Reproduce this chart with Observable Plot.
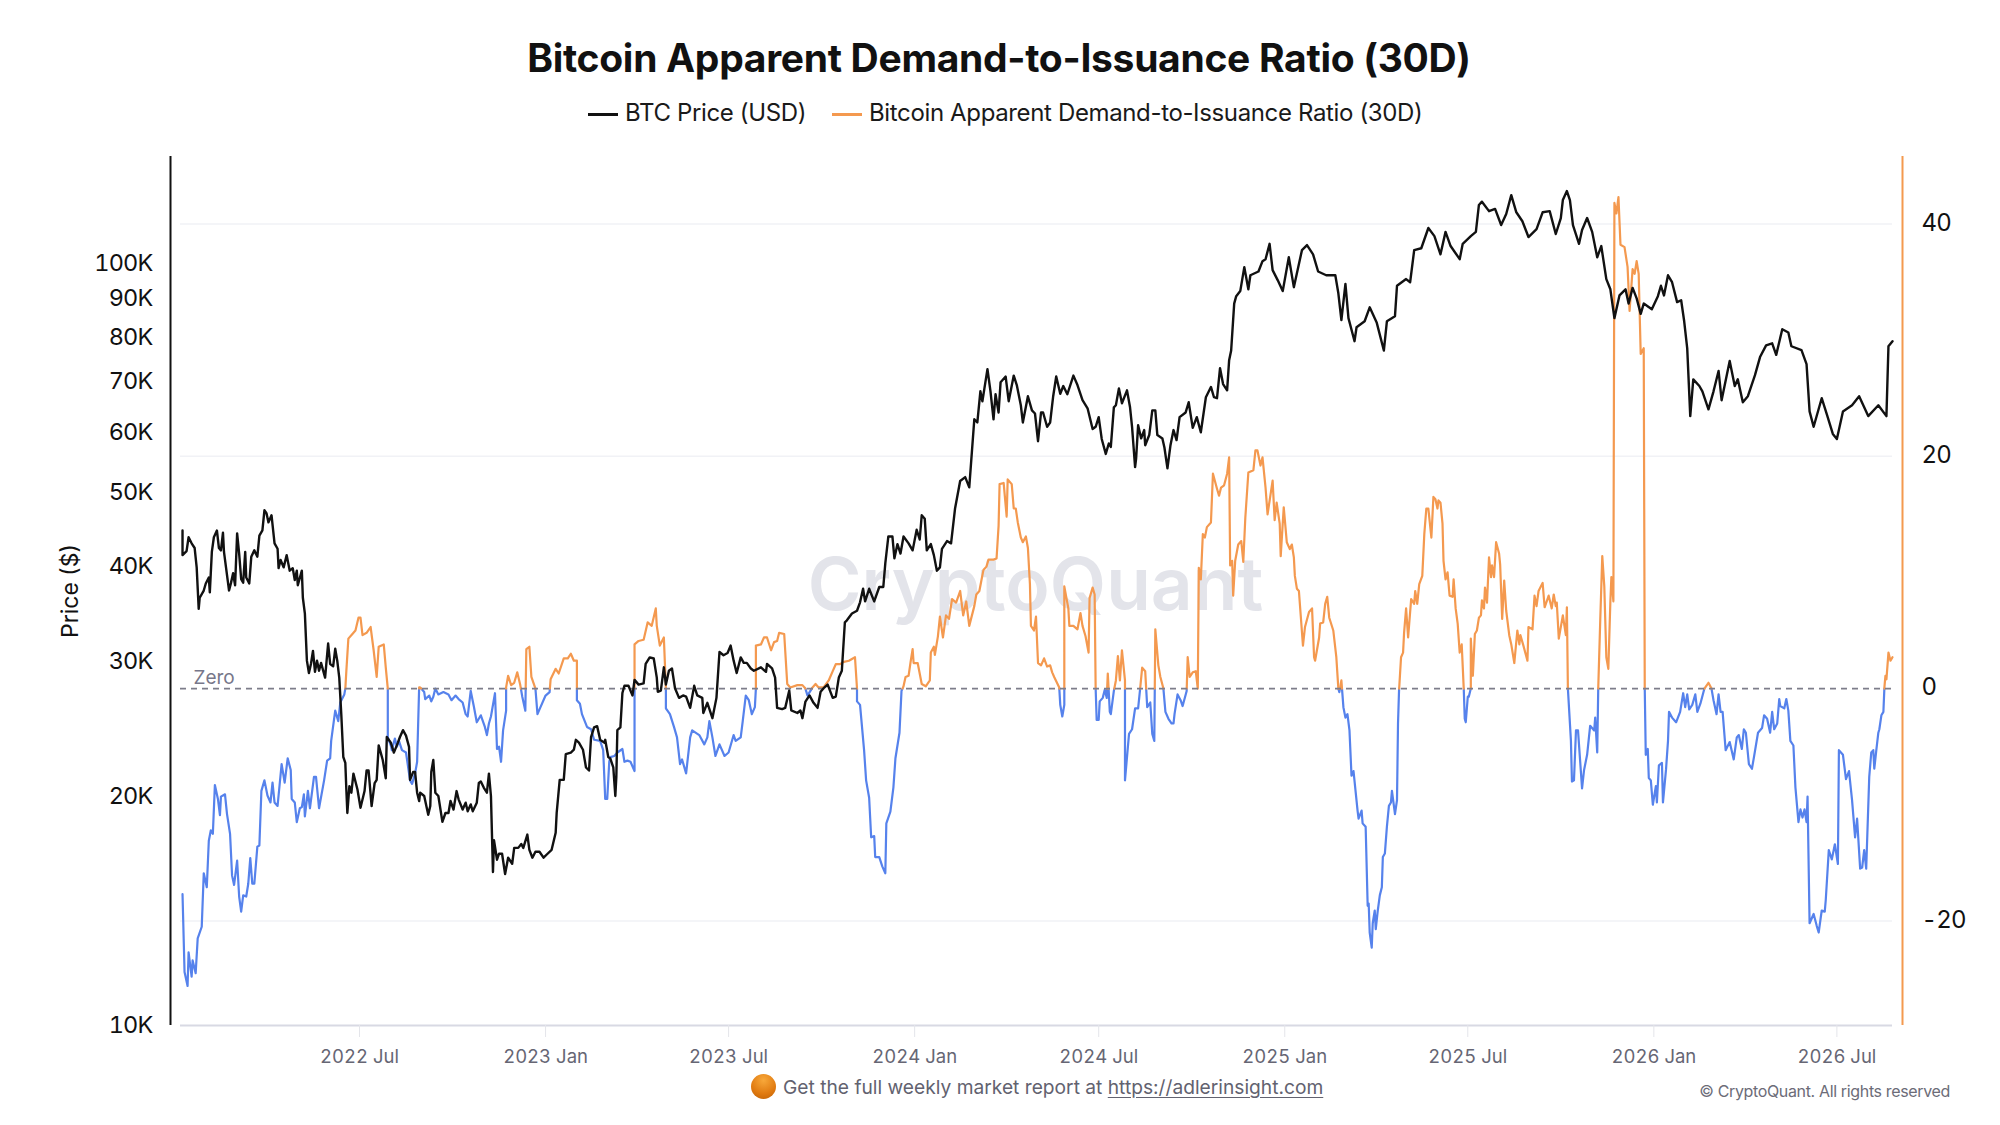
<!DOCTYPE html>
<html><head><meta charset="utf-8">
<script src="https://cdn.jsdelivr.net/npm/d3@7"></script>
<script src="https://cdn.jsdelivr.net/npm/@observablehq/plot@0.6"></script>
<style>
html,body{margin:0;padding:0;background:#fff;font-family:Inter,sans-serif;}
#page{position:relative;width:2000px;height:1125px;overflow:hidden;}
#title{position:absolute;top:32px;left:0;width:1998px;text-align:center;font-size:39px;font-weight:700;color:#111;line-height:52px;letter-spacing:-0.3px;}
.leg{position:absolute;top:98px;font-size:24px;line-height:30px;color:#1a1a1a;white-space:nowrap;letter-spacing:-0.36px;}
.swatch{position:absolute;top:113px;height:3px;width:30px;}
.layer{position:absolute;left:0;top:140px;}
#foot{position:absolute;left:783px;top:1074px;font-size:19.2px;line-height:26px;color:#62626f;white-space:nowrap;}
#foot u{text-underline-offset:3px;}
#orb{position:absolute;left:755px;top:1079px;width:25px;height:25px;border-radius:50%;background:radial-gradient(circle at 50% 25%,#f8a83a,#e07a10 60%,#bd5f05);transform:translate(-4px,-5px);}
#copy{position:absolute;right:50px;top:1080px;font-size:16px;line-height:22px;color:#6c6c78;white-space:nowrap;letter-spacing:-0.35px;}
svg g[aria-label="y-axis tick label"]{letter-spacing:-0.8px;}
</style></head><body>
<div id="page">
<div id="title">Bitcoin Apparent Demand-to-Issuance Ratio (30D)</div>
<div class="swatch" style="left:588px;background:#111"></div><div class="leg" style="left:625px">BTC Price (USD)</div>
<div class="swatch" style="left:832px;background:#f4994f"></div><div class="leg" style="left:869px">Bitcoin Apparent Demand-to-Issuance Ratio (30D)</div>
<div id="ratioLayer" class="layer"></div>
<div id="priceLayer" class="layer"></div>
<div id="orb"></div>
<div id="foot">Get the full weekly market report at <u>https://adlerinsight.com</u></div>
<div id="copy">© CryptoQuant. All rights reserved</div>
</div>
<script>
// [days since 2022-01-01, BTC price in thousands of USD]
const btcPrice = [[6,44.6],[6,41.4],[10,41.9],[12,43.7],[15,42.9],[18,42.3],[20,39.9],[22,35.2],[23,36.4],[27,37.2],[29,38.0],[32,38.7],[33,37.0],[35,41.8],[37,43.7],[40,44.6],[42,42.3],[44,42.0],[46,44.3],[47,41.8],[49,39.9],[52,37.2],[54,38.1],[56,39.2],[58,37.8],[60,44.2],[62,41.6],[64,38.5],[66,38.1],[68,41.8],[69,38.7],[72,38.0],[74,41.2],[77,42.0],[80,41.2],[82,43.9],[85,44.6],[87,47.4],[89,47.0],[91,45.7],[94,46.7],[97,42.9],[100,42.2],[101,39.8],[103,40.8],[106,39.9],[109,41.4],[112,39.5],[115,39.8],[117,38.4],[119,39.5],[120,37.8],[124,39.5],[125,36.4],[127,34.7],[129,30.1],[131,29.0],[133,29.8],[135,31.0],[137,29.1],[139,30.1],[141,29.2],[143,29.9],[147,28.6],[150,31.7],[152,29.8],[155,29.6],[157,31.2],[159,30.1],[161,28.6],[163,25.6],[165,22.5],[167,22.1],[168,20.4],[169,19.0],[171,20.6],[173,20.2],[175,21.4],[179,20.4],[182,19.3],[186,20.3],[188,21.6],[190,21.6],[193,19.4],[196,20.8],[198,21.0],[200,23.3],[202,22.8],[204,22.3],[207,21.1],[208,23.9],[212,23.5],[215,22.8],
[219,23.5],[221,23.9],[224,24.4],[227,24.0],[230,23.2],[231,21.0],[234,21.5],[236,21.5],[238,20.2],[240,19.7],[241,20.2],[245,20.0],[249,18.9],[251,19.4],[252,21.5],[254,22.3],[256,20.2],[259,20.0],[263,18.5],[266,19.0],[269,19.0],[271,19.7],[274,19.2],[277,20.3],[279,19.8],[283,19.2],[286,19.6],[288,19.1],[291,19.5],[293,19.1],[297,19.6],[299,20.8],[301,20.9],[304,20.5],[307,20.2],[309,21.4],[311,20.0],[313,15.9],[314,17.5],[317,16.5],[319,16.8],[322,16.8],[325,15.8],[328,16.6],[332,16.3],[334,17.1],[338,17.1],[341,17.3],[343,17.1],[347,17.8],[349,17.0],[352,16.6],[355,16.9],[359,16.9],[363,16.6],[367,16.8],[371,17.0],[375,17.9],[376,19.0],[379,21.0],[383,21.0],[385,22.7],[390,22.8],[393,23.0],[395,23.7],[398,23.5],[402,23.0],[405,21.8],[408,21.6],[410,23.9],[413,24.6],[416,24.7],[419,23.7],[423,23.5],[424,23.7],[427,22.5],[429,22.4],
[432,21.8],[434,20.0],[435,21.2],[436,24.4],[439,24.6],[441,27.3],[443,27.9],[447,27.9],[451,27.1],[453,28.4],[457,28.0],[462,28.1],[464,29.8],[468,30.4],[472,30.3],[475,28.6],[476,27.4],[479,27.5],[482,29.5],[484,28.0],[487,29.2],[490,29.4],[493,27.7],[497,26.9],[501,27.1],[504,27.0],[508,26.1],[512,27.9],[515,27.1],[520,26.9],[521,25.7],[525,26.5],[530,25.3],[534,26.9],[537,30.9],[541,30.6],[545,30.8],[548,31.5],[551,30.1],[554,29.0],[558,30.4],[561,29.9],[564,29.9],[568,29.4],[571,29.2],[578,29.5],[583,29.1],[584,29.8],[589,29.4],[592,28.6],[594,26.1],[599,26.0],[602,26.1],[606,27.5],[608,25.9],[614,25.7],[617,25.9],[619,25.3],[622,26.6],[626,27.1],[630,26.5],[634,26.1],[637,27.4],[640,27.7],[644,28.0],[649,26.9],[652,27.0],[655,28.6],[658,29.2],[661,33.8],[663,34.0],[668,34.7],[673,35.0],[676,35.9],
[679,37.4],[681,36.0],[685,37.4],[690,36.0],[695,37.6],[699,37.6],[701,40.4],[704,43.8],[708,43.8],[710,41.0],[713,42.8],[716,41.6],[719,43.8],[724,42.9],[728,42.0],[732,44.7],[735,43.4],[737,46.7],[740,46.2],[742,42.0],[746,42.8],[749,41.4],[752,39.5],[755,39.9],[757,42.2],[762,43.2],[766,42.9],[770,47.7],[775,51.8],[780,52.4],[784,50.8],[789,62.4],[792,61.8],[795,67.9],[797,65.9],[799,68.5],[802,72.6],[805,67.9],[808,62.4],[810,67.3],[813,63.7],[815,69.8],[820,71.0],[823,65.9],[828,71.2],[831,69.2],[835,65.1],[837,61.8],[842,66.9],[846,64.1],[849,63.5],[852,58.4],[855,63.7],[857,63.7],[861,61.0],[864,61.8],[867,66.9],[870,71.0],[874,67.4],[877,69.0],[881,67.3],[887,71.2],[891,69.2],[896,66.1],[901,64.5],[906,60.6],[909,61.0],[912,62.8],[915,58.8],[919,56.2],[922,58.0],[924,57.4],
[927,64.7],[929,65.1],[932,68.5],[935,65.5],[940,68.1],[943,64.7],[945,61.0],[948,54.0],[949,55.4],[951,61.3],[954,58.9],[957,60.4],[958,57.7],[962,59.5],[965,64.1],[968,64.1],[970,59.5],[975,58.9],[977,57.3],[980,53.8],[983,57.7],[986,60.4],[989,58.6],[992,62.8],[998,63.7],[1001,65.7],[1005,60.8],[1009,62.8],[1013,60.0],[1018,66.7],[1023,68.8],[1026,66.7],[1029,66.5],[1032,72.8],[1035,69.4],[1039,68.1],[1041,74.6],[1043,76.8],
[1046,88.5],[1048,90.5],[1052,91.9],[1056,98.8],[1060,92.4],[1062,96.4],[1070,97.5],[1074,100.6],[1077,101.2],[1081,106],[1084,97.9],[1089,95],[1094,91.9],[1100,101.8],[1105,93],[1113,104],[1118,105.6],[1124,102.7],[1129,97.5],[1137,96.4],[1146,96.4],[1149,91.3],[1152,84.2],[1156,93.9],[1159,84.7],[1165,79.0],[1167,82.4],[1175,83.9],[1180,87.5],[1187,83.5],[1194,76.8],[1197,83.9],[1205,85.2],[1207,93.4],[1216,95.3],[1220,94.4],[1224,104],[1231,104.6],[1238,111.2],[1244,108.5],[1250,102.7],[1255,109.9],[1260,105.3],[1269,101.2],[1272,106],[1280,108.5],[1285,109.9],[1288,119.2],[1291,120.4],[1298,117],[1304,117.8],[1310,112.2],[1315,116],[1320,122.8],[1325,116.6],[1331,113.5],[1337,108.2],[1345,110.8],[1351,116.6],[1358,117],[1364,109.2],[1369,114.6],[1371,121],[1375,124.3],[1378,121],[1381,112.2],[1387,106],[1390,110.5],[1395,114.6],[1400,109.9],[1405,101.8],[1409,105.3],[1414,95.3],[1418,92.4],[1422,84.7],[1427,90.7],[1433,92.4],[1436,88.5],[1440,92.8],[1444,89.9],[1448,85.8],[1451,88.5],[1459,87],[1465,90.5],[1468,93.4],[1471,90.7],[1475,96.4],[1479,94.4],[1484,88.9],[1488,89.4],[1491,83.9],[1494,77.3],[1497,63],[1500,70.4],[1506,69],[1509,67.9],[1515,64.3],[1520,67.9],[1525,72.2],[1528,66.1],[1536,74.4],[1541,69],[1544,70.4],[1549,65.7],[1554,66.9],[1561,71.3],[1566,75.3],[1572,78],[1578,78.5],[1582,75.8],[1588,81.9],[1594,81.1],[1597,77.8],[1607,76.9],[1612,73.7],[1615,63.9],[1619,61],[1627,66.5],[1632,63.4],[1638,59.7],[1642,58.8],[1648,63.9],[1657,65.1],[1664,66.9],[1673,63],[1683,65.1],[1691,63],[1693,77.8],[1697,79]];

// [days since 2022-01-01, Apparent Demand-to-Issuance Ratio]
const demandRatio = [[6,-17.7],[8,-24.4],[11,-25.6],[12,-22.7],[15,-24.8],[16,-23.4],[19,-24.5],[21,-21.5],[25,-20.5],[27,-15.9],[30,-17.1],[32,-13.1],[34,-12.2],[36,-12.5],[38,-8.3],[41,-9.5],[43,-10.9],[44,-9.3],[48,-9.1],[50,-10.8],[53,-12.5],[55,-16.1],[57,-16.9],[60,-14.8],[62,-17.9],[64,-19.2],[66,-17.8],[69,-17.9],[71,-16.8],[73,-14.6],[75,-16.8],[77,-16.8],[80,-13.6],[82,-13.5],[84,-8.8],[87,-7.9],[90,-9.2],[93,-9.8],[95,-8.1],[97,-9.8],[100,-10.1],[102,-8.3],[104,-6.5],[107,-8.1],[110,-6.0],[113,-7.0],[114,-9.5],[117,-9.8],[119,-11.5],[122,-10.3],[124,-10.2],[126,-9.1],[127,-11.0],[130,-8.8],[132,-10.3],[136,-7.6],[138,-7.6],[141,-10.3],[146,-7.9],[149,-6.2],[152,-6.0],[153,-4.5],[157,-1.9],[160,-2.8],[162,-1.2],[166,-0.5],[167,0],[168,1.5],[170,4.3],[174,4.7],[177,5.0],[180,6.1],[182,6.1],[184,4.6],[188,4.8],[192,5.3],[195,3.3],[198,1.0],[200,3.6],[205,3.8],[207,1.8],[209,0],[209,-4.2],[212,-4.9],[213,-5.3],[216,-4.3],[218,-5.0],[220,-4.5],[223,-5.3],[227,-5.5],[231,-7.9],[233,-8.2],[236,-7.3],[238,-6.3],[240,0.1],[241,0.1],[245,-0.3],[246,-0.9],[250,-0.6],[252,-1.1],[254,-0.7],[256,0],[259,-0.5],[264,-0.3],[269,-0.5],[272,-1.0],[276,-0.6],[279,-0.9],[283,-1.2],[286,-2.2],[288,-2.4],[291,-0.2],[294,-1.5],[297,-2.9],[301,-2.3],[305,-3.3],[307,-4.0],[309,-3.0],[311,-2.4],[315,-0.4],[317,-5.2],[319,-5.0],[321,-6.3],[323,-3.6],[326,-1.9],[326,0.1],[328,1.1],[331,0.3],[334,0.5],[337,1.4],[340,0.3],[342,-0.7],[345,-1.9],[346,3.4],[349,3.6],[351,1.0],[355,0],[357,-2.2],[360,-1.6],[365,-0.6],[369,-0.3],[370,0.8],[375,1.7],[378,1.3],[383,2.6],[387,2.6],[390,3.0],[393,2.4],[396,2.4],[396,-1.0],[399,-1.3],[401,-2.2],[406,-3.3],[410,-3.5],[413,-4.4],[419,-4.5],[422,-5.3],[424,-9.5],[426,-9.5],[428,-6.3],[429,-5.9],
[433,-5.8],[436,-5.5],[441,-5.2],[443,-6.3],[446,-6.2],[449,-6.3],[453,-7.1],[453,3.8],[457,4.1],[462,4.2],[466,5.7],[470,5.4],[474,6.9],[475,5.4],[478,3.7],[482,4.4],[484,0],[484,-1.7],[488,-2.2],[492,-3.3],[495,-4.2],[498,-6.5],[500,-6.1],[504,-7.3],[508,-4.2],[510,-3.6],[517,-4.0],[522,-4.8],[525,-4.2],[527,-2.8],[530,-4.2],[533,-5.8],[537,-4.8],[542,-5.8],[546,-5.5],[551,-4.0],[553,-4.5],[558,-4.2],[560,-2.8],[563,-0.6],[566,-1.0],[569,-2.2],[572,-1.6],[573,0],[573,3.7],[578,3.8],[581,4.4],[584,4.4],[588,3.3],[591,4.0],[594,4.1],[596,4.8],[601,4.7],[604,0.4],[607,0.1],[614,0.3],[619,0.3],[622,0],[624,-0.6],[629,0.1],[632,0.4],[635,0.1],[640,0.1],[645,0.7],[649,1.5],[652,2.1],[656,2.1],[660,2.3],[665,2.4],[671,2.7],[673,0],[673,-1.1],[676,-1.4],
[680,-5.3],[682,-7.9],[685,-9.4],[687,-12.8],[690,-12.7],[691,-14.5],[695,-14.5],[698,-15.3],[701,-15.9],[702,-11.6],[706,-10.6],[709,-8.5],[711,-6.0],[715,-3.8],[717,-0.2],[719,0.2],[721,1.0],[724,1.1],[726,2.3],[728,3.4],[729,2.2],[733,2.2],[737,0.4],[741,0.2],[745,0.7],[746,3.1],[749,3.6],[750,2.9],[753,4.5],[755,6.2],[758,4.4],[761,6.3],[764,6.0],[767,7.7],[771,7.4],[775,8.4],[778,6.3],[781,7.5],[784,5.4],[789,7.1],[791,8.1],[794,8.4],[796,9.3],[798,10.2],[801,10.5],[803,11.1],[808,11.1],[811,11.2],[813,14.0],[814,17.6],[818,17.7],[821,14.8],[822,18.0],[826,17.6],[828,15.5],[830,15.5],[832,14.3],[835,13.0],[837,12.6],[840,13.1],[842,12.1],[844,9.0],[845,5.4],[848,5.0],[850,6.2],[852,2.2],[855,2.0],[858,2.6],[861,1.9],[864,2.0],[866,1.4],[868,1.0],[873,0.1],[874,-1.4],[876,-2.4],[878,-1.4],[878,8.8],[882,6.9],[883,5.4],[887,5.4],[891,5.1],[894,6.5],[896,5.4],[899,4.5],[902,3.1],[903,7.8],[906,8.7],[908,8.1],[909,0],[910,-2.7],[912,-2.7],[913,-1.1],[916,-0.8],[918,-0.1],[920,-0.8],[921,1.3],[923,-2.0],
[924,-2.2],[927,-0.2],[929,0.7],[931,2.8],[933,0.7],[935,3.3],[938,0.7],[938,-7.9],[942,-3.9],[945,-3.5],[948,-1.7],[951,-1.7],[953,0],[955,1.8],[958,1.5],[960,-1.6],[963,-1.2],[965,-3.9],[967,-4.5],[968,5.1],[971,2.0],[973,1.0],[976,0],[978,-2.0],[981,-2.6],[984,-3.0],[986,-3.0],[987,-2.2],[990,-0.5],[993,-1.0],[995,-1.5],[999,-0.2],[1000,2.7],[1002,1.0],[1005,1.4],[1008,1.5],[1010,0],[1011,10.4],[1013,9.4],[1015,13.3],[1017,13.0],[1019,13.9],[1023,14.3],[1025,18.5],[1029,17.2],[1031,16.6],[1033,17.3],[1036,17.5],[1039,18.5],[1041,19.9],[1042,10.6],[1044,11.0],[1045,8.0],[1047,11.0],[1050,12.4],[1053,12.7],[1055,10.9],[1057,14.7],[1060,18.6],[1065,18.8],[1067,20.5],[1069,20.5],[1072,19.2],[1074,19.9],[1077,17.3],[1079,15.0],[1084,17.9],[1086,14.5],[1088,16.0],[1091,14.2],[1092,11.4],[1095,15.6],[1098,12.6],[1101,12.0],[1103,12.4],[1105,11.3],[1106,9.7],[1108,8.6],[1110,8.4],[1114,3.7],[1116,5.3],[1120,6.6],[1123,6.9],[1125,2.7],[1126,2.4],[1130,4.4],[1131,5.6],[1134,5.7],[1136,7.3],[1138,7.9],[1140,6.1],[1144,5.0],[1147,2.7],[1149,0],[1150,-0.3],[1152,0.7],[1154,-1.6],[1156,-2.5],[1158,-2.2],[1160,-3.6],[1162,-7.5],[1164,-7.1],[1168,-10.5],
[1169,-11.2],[1172,-10.5],[1173,-11.6],[1176,-11.9],[1178,-18.7],[1179,-18.5],[1180,-21.0],[1182,-22.3],[1183,-20.2],[1185,-19.1],[1186,-20.7],[1188,-19.1],[1190,-17.8],[1192,-17.1],[1193,-14.5],[1195,-14.2],[1197,-11.9],[1199,-10.1],[1201,-9.8],[1202,-8.8],[1205,-10.8],[1207,-9.6],[1208,-3.0],[1209,-0.2],[1211,2.7],[1213,3.1],[1214,4.8],[1216,6.9],[1218,4.4],[1221,7.7],[1224,7.3],[1225,8.4],[1227,7.3],[1229,9.0],[1232,9.7],[1234,13.3],[1236,15.5],[1238,15.5],[1241,13.0],[1243,16.5],[1245,16.3],[1247,15.5],[1248,16.2],[1250,16.0],[1252,14.2],[1253,11.0],[1255,9.4],[1257,10.0],[1259,8.0],[1262,7.9],[1263,9.4],[1265,6.9],[1267,5.6],[1269,3.1],[1271,3.8],[1273,0],[1274,-2.6],[1275,-2.9],[1277,-0.7],[1278,-0.7],[1280,0],[1280,4.3],[1282,1.1],[1284,4.7],[1286,5.0],[1288,6.1],[1290,6.3],[1291,7.6],[1293,6.9],[1294,8.7],[1296,7.4],[1298,11.3],[1300,9.6],[1301,10.6],[1303,9.6],[1305,12.6],[1308,11.6],[1309,10.7],[1311,6.0],[1313,9.3],[1315,6.7],[1318,4.6],[1320,3.8],[1323,2.2],[1326,5.0],[1328,3.8],[1329,4.6],[1332,3.7],[1336,2.4],[1337,5.3],[1341,5.1],[1343,8.0],[1345,7.1],[1347,8.4],[1351,9.1],[1353,7.0],[1357,8.0],[1360,6.9],[1362,8.1],[1364,7.1],[1365,7.4],[1367,4.3],
[1371,6.3],[1374,4.6],[1375,7.0],[1376,0],[1379,-4.5],[1380,-8.0],[1382,-7.9],[1384,-3.6],[1386,-3.6],[1390,-8.6],[1392,-7.0],[1395,-5.7],[1398,-3.2],[1402,-3.6],[1403,-2.5],[1405,-5.5],[1406,0],[1408,5.9],[1410,11.4],[1412,8.8],[1414,2.7],[1416,1.7],[1418,7.5],[1419,9.6],[1421,7.5],[1422,41.8],[1424,40.9],[1426,42.3],[1428,38.2],[1432,38.0],[1435,36.3],[1437,32.5],[1440,36.1],[1442,35.7],[1444,36.8],[1446,35.7],[1448,28.8],[1451,29.3],[1452,0],[1453,-5.7],[1455,-5.2],[1456,-7.7],[1458,-7.9],[1460,-10.0],[1463,-8.4],[1464,-9.8],[1466,-6.6],[1469,-6.4],[1470,-9.8],[1473,-7.0],[1475,-4.5],[1476,-2.0],[1479,-2.5],[1483,-2.9],[1487,-2.0],[1490,-0.4],[1492,-1.6],[1494,-0.5],[1496,-1.8],[1499,-1.4],[1502,-0.5],[1504,-2.0],[1507,-1.3],[1511,0],[1515,0.5],[1518,0],
[1520,-1.0],[1523,-2.2],[1525,-0.5],[1527,-2.0],[1529,-2.0],[1532,-5.3],[1536,-4.6],[1540,-6.1],[1543,-4.2],[1545,-4.0],[1548,-5.2],[1550,-3.5],[1552,-3.8],[1555,-6.5],[1558,-6.9],[1560,-5.9],[1564,-3.8],[1568,-3.4],[1570,-2.3],[1573,-2.6],[1576,-3.8],[1578,-2.0],[1580,-3.5],[1583,-3.0],[1585,-0.9],[1586,-1.5],[1590,-1.7],[1592,-0.9],[1594,-1.9],[1596,-4.5],[1599,-4.9],[1601,-8.5],[1604,-11.5],[1606,-10.4],[1608,-11.1],[1610,-10.4],[1612,-11.5],[1613,-9.3],[1615,-20.2],[1619,-19.4],[1622,-20.4],[1624,-21.0],[1627,-19.1],[1630,-19.2],[1631,-18.2],[1634,-13.9],[1637,-14.7],[1640,-13.4],[1643,-15.1],[1644,-5.3],[1648,-5.7],[1651,-7.8],[1654,-7.1],[1657,-9.6],[1660,-12.8],[1662,-11.2],[1665,-15.5],[1667,-15.4],[1669,-13.9],[1671,-15.5],[1674,-7.6],[1676,-5.5],[1678,-5.3],[1679,-6.9],[1681,-5.3],[1683,-3.8],[1684,-3.5],[1686,-2.3],[1688,-2.0],[1689,0.1],[1690,1.1],[1691,0.8],[1693,3.1],[1695,2.4],[1697,2.7]];

const priceTicks = [10000,20000,30000,40000,50000,60000,70000,80000,90000,100000];
const ratioTicks = [-20,0,20,40];
const gridValues = [-20,20,40];
const dateTicks = ["2022-07-01","2023-01-01","2023-07-01","2024-01-01","2024-07-01","2025-01-01","2025-07-01","2026-01-01","2026-07-01"].map(d=>new Date(d));
const xDomain = [new Date("2022-01-05"),new Date("2026-08-25")];
const priceDomain = [10000,138000];
const ratioDomain = [-29,45.8];

const ORANGE="#f4994f", BLUE="#5682ec", FONT="Inter, sans-serif";
const dayDate = d => new Date(Date.UTC(2022,0,1)+d*864e5);

// split the ratio where it crosses zero so each side takes its own colour
const ratioParts=[];
{ let seg=0, prev=null, sign=0;
  for(const [d,v] of demandRatio){
    const s = v>0?1:v<0?-1:sign;
    if(prev && sign && s!==sign){
      const t = prev[1]/(prev[1]-v);
      const cross = prev[0]+(d-prev[0])*t;
      ratioParts.push({date:dayDate(cross),v:0,seg,sign});
      seg++;
      ratioParts.push({date:dayDate(cross),v:0,seg,sign:s});
    }
    sign=s;
    ratioParts.push({date:dayDate(d),v,seg,sign});
    prev=[d,v];
  }
}
const common = {width:2000,height:950,marginTop:16,marginBottom:65,marginLeft:180,marginRight:108,
  style:{fontFamily:FONT,background:"transparent",overflow:"visible"}};

const ratioPlot = Plot.plot({...common,
  x:{type:"utc",domain:xDomain,axis:null},
  y:{domain:ratioDomain,axis:null},
  marks:[
    Plot.ruleY(gridValues,{stroke:"#f1f2f6",strokeWidth:1.5}),
    Plot.text(["CryptoQuant"],{frameAnchor:"middle",dx:-1,dy:-4,fontSize:73,fontWeight:600,fill:"#e3e4ea",fontFamily:FONT}),
    Plot.ruleY([ratioDomain[0]],{stroke:"#d8d9e3",strokeWidth:2}),
    Plot.axisX({ticks:dateTicks,tickFormat:d3.utcFormat("%Y %b"),tickSize:12,tickPadding:12,fontSize:18.5,stroke:"#e4e5ea",fill:"#666674",label:null}),
    Plot.axisY({anchor:"right",ticks:ratioTicks,tickSize:0,tickPadding:29,fontSize:24,fill:"#111",label:null,tickFormat:d=>String(d),textAnchor:"start",dy:-1}),
    Plot.ruleX([xDomain[1]],{dx:10,stroke:ORANGE,strokeWidth:2}),
    Plot.line(ratioParts.filter(d=>d.sign<0),{x:"date",y:"v",z:"seg",stroke:BLUE,strokeWidth:2.2}),
    Plot.line(ratioParts.filter(d=>d.sign>=0),{x:"date",y:"v",z:"seg",stroke:ORANGE,strokeWidth:2.2}),
    Plot.ruleY([0],{stroke:"#7d7d8a",strokeWidth:1.6,strokeDasharray:"6,5"}),
    Plot.text(["Zero"],{x:xDomain[0],y:0,dx:13,dy:-11,textAnchor:"start",fontSize:19,fill:"#77778a"})
  ]});
document.getElementById("ratioLayer").append(ratioPlot);

const pricePlot = Plot.plot({...common,
  x:{type:"utc",domain:xDomain,axis:null},
  y:{type:"log",domain:priceDomain,axis:null},
  marks:[
    Plot.axisY({ticks:priceTicks,tickSize:0,tickPadding:28,fontSize:23.5,fill:"#111",label:null,tickFormat:d=>(d/1000)+"K"}),
    Plot.ruleX([xDomain[0]],{dx:-10,stroke:"#111",strokeWidth:2}),
    Plot.text(["Price ($)"],{frameAnchor:"left",rotate:-90,dx:-110,textAnchor:"middle",fontSize:23,fill:"#111"}),
    Plot.line(btcPrice,{x:d=>dayDate(d[0]),y:d=>d[1]*1000,stroke:"#111",strokeWidth:2.4})
  ]});
document.getElementById("priceLayer").append(pricePlot);
</script>
</body></html>
